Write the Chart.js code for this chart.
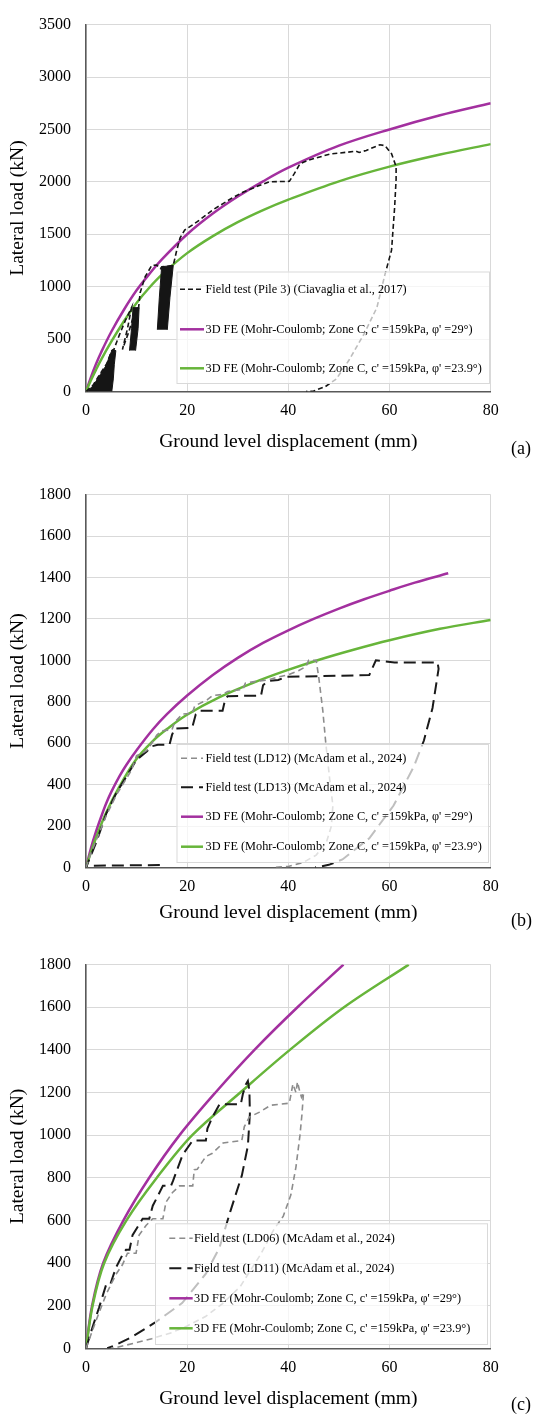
<!DOCTYPE html>
<html>
<head>
<meta charset="utf-8">
<script src="https://cdn.jsdelivr.net/npm/chart.js@4.4.1/dist/chart.umd.min.js"></script>
<style>
  body { margin: 0; background: #fff; }
  #page { position: relative; width: 537px; height: 1416px; }
  canvas { position: absolute; left: 0; }
  .tag { position: absolute; left: 511px; font: 18px "Liberation Serif", serif; line-height: 20px; color: #000; }
</style>
</head>
<body>
<div id="page">
  <canvas id="chartA" width="537" height="470" style="top:0"></canvas>
  <canvas id="chartB" width="537" height="470" style="top:470px"></canvas>
  <canvas id="chartC" width="537" height="476" style="top:940px"></canvas>
  <div class="tag" style="top:438px">(a)</div>
  <div class="tag" style="top:910px">(b)</div>
  <div class="tag" style="top:1394px">(c)</div>
</div>
<script>
// tick labels
const xTicks = [0, 20, 40, 60, 80];
const yTicksA = [0, 500, 1000, 1500, 2000, 2500, 3000, 3500];
const yTicksBC = [0, 200, 400, 600, 800, 1000, 1200, 1400, 1600, 1800];

// (a) field test, Pile 3
const pile3X = [0, 1.4, 2.8, 4.1, 5.1, 5.5, 6.6, 7.8, 9.0, 8.2, 7.2, 8.4, 9.4, 10.0, 10.4, 10.7, 11.7, 13.0, 14.0, 14.7,
  15.0, 16.2, 17.25, 17.9, 18.6, 19.5, 22, 25, 27, 29, 31, 34, 36.2, 40.2, 41.2, 42.3, 44, 48.2, 53.4, 54,
  55.4, 58.1, 59.1, 60.4, 61.3, 61.3, 61.0, 60.4, 59.1, 57.5, 55, 52, 49.5, 47.3, 45, 43.5];
const pile3Y = [0, 60, 170, 265, 390, 400, 540, 680, 800, 600, 400, 560, 720, 790, 800, 942, 1096, 1203, 1205, 1172,
  1190, 1195, 1203, 1340, 1465, 1540, 1620, 1730, 1790, 1850, 1900, 1960, 2000, 2005, 2080, 2173, 2207, 2265, 2292, 2280,
  2300, 2354, 2345, 2268, 2145, 2023, 1750, 1348, 1117, 800, 552, 300, 120, 46, 5, 0];
// dense load cycles (read as filled outlines)
const cycA1X = [0.2, 1.4, 2.8, 4.0, 4.8, 5.3, 5.9, 5.6, 5.4, 5.1];
const cycA1Y = [0, 55, 160, 250, 360, 400, 390, 260, 120, 0];
const cycA2X = [8.6, 9.0, 9.3, 10.5, 10.3, 9.8];
const cycA2Y = [390, 600, 800, 800, 600, 390];
const cycA3X = [14.1, 14.5, 14.95, 17.25, 16.6, 16.07];
const cycA3Y = [590, 900, 1190, 1203, 900, 588];
// (a) 3D FE
const feA29X = [0, 1, 2, 3, 5, 7.5, 10, 12.5, 15, 20, 25, 30, 35, 40, 50, 60, 70, 80];
const feA29Y = [0, 140, 265, 375, 570, 780, 965, 1120, 1260, 1500, 1695, 1860, 2005, 2135, 2345, 2500, 2635, 2750];
const feA239X = [0, 1, 2, 3, 5, 7.5, 10, 12.5, 15, 20, 25, 30, 35, 40, 50, 60, 70, 80];
const feA239Y = [0, 110, 210, 305, 475, 670, 845, 990, 1115, 1320, 1480, 1615, 1730, 1830, 2005, 2145, 2260, 2360];

// (b) field tests
const ld12X = [0, 1, 2, 3, 4, 5, 6, 7, 8, 9, 10, 11, 12, 13, 14, 15, 17, 17.5, 19, 21, 21.5, 24, 25, 27, 28, 31,
  31.5, 34, 36, 38, 40, 42, 43.5, 44, 45.5, 46, 46.8, 47.4, 48.2, 48.8, 48.5, 47.5, 45.5, 43, 40, 37];
const ld12Y = [0, 70, 130, 190, 250, 300, 350, 390, 430, 470, 540, 550, 565, 600, 640, 660, 665, 700, 740, 745, 780, 810, 830, 835, 850, 860,
  890, 900, 905, 920, 930, 950, 970, 1000, 1000, 920, 760, 600, 420, 300, 200, 120, 60, 25, 5, 0];
const ld13X = [14.6, 0, 0, 1, 2, 3, 4, 5, 6, 7, 8, 9, 10, 11, 12, 13, 14.2, 16.5, 17, 17.5, 21, 21.7, 22.5, 27, 27.5, 28,
  34.6, 35, 36, 38, 39.5, 56, 57.3, 59, 61, 69.5, 69.7, 68.5, 66.8, 64.8, 60.8, 56, 50.7, 48, 45.3];
const ld13Y = [12, 8, 0, 60, 120, 190, 260, 310, 360, 400, 440, 480, 520, 540, 560, 585, 592, 592, 640, 670, 675, 740, 757, 757, 810, 827,
  830, 880, 900, 905, 920, 929, 1000, 995, 990, 990, 959, 770, 613, 487, 299, 141, 39, 13, 0];
// (b) 3D FE
const feB29X = [0, 1, 2, 3, 4, 5, 6.6, 8, 10, 13.2, 16, 20, 25, 30, 35, 40, 45, 50, 55, 60, 65, 71.6];
const feB29Y = [0, 95, 175, 245, 310, 365, 440, 496, 566, 666, 740, 830, 928, 1012, 1084, 1145, 1200, 1250, 1295, 1336, 1375, 1420];
const feB239X = [0, 1, 2, 4, 6.6, 9.9, 13.2, 16, 19.8, 26.4, 32.9, 39.5, 46.1, 52.7, 60, 70, 80];
const feB239Y = [0, 75, 145, 265, 390, 521, 610, 668, 735, 822, 890, 950, 1003, 1050, 1097, 1152, 1195];

// (c) field tests
const ld06X = [0, 2, 4, 5.9, 7.2, 8.2, 9.9, 10.5, 11.9, 13.2, 15.2, 15.8, 17.1, 18.5, 21.1, 21.4, 22, 23.7, 25, 27.1,
  30.8, 31.3, 32.3, 34.3, 36.5, 40.2, 40.9, 41.5, 41.8, 42.2, 42.6, 43, 42.7, 42.3, 41.5, 40.5, 39, 37.2, 34.5, 30.5,
  27, 23.7, 20, 17, 13, 10.2, 6.2, 4.9];
const ld06Y = [0, 131, 254, 346, 392, 446, 446, 531, 577, 608, 608, 685, 731, 762, 762, 838, 840, 900, 915, 963,
  975, 1040, 1085, 1108, 1140, 1150, 1240, 1200, 1250, 1210, 1178, 1200, 1100, 1000, 850, 720, 620, 560, 440, 290,
  210, 150, 105, 74, 45, 28, 5, 0];
const ld11X = [0, 1.3, 2.6, 4.0, 4.8, 5.9, 7.2, 7.9, 8.6, 9.2, 11.2, 12.5, 13.2, 14.2, 15.2, 16.8, 17.2, 19.1, 21.1, 23.7,
  24, 25, 26.4, 30.6, 31, 31.6, 32, 32.3, 32.4, 32, 30.8, 28.5, 26.4, 23.7, 19, 13.6, 8.9, 5.5, 4.2];
const ld11Y = [0, 100, 192, 300, 300, 377, 438, 462, 462, 531, 608, 608, 669, 715, 762, 762, 785, 908, 975, 975,
  1031, 1085, 1145, 1145, 1192, 1238, 1254, 1208, 1100, 950, 810, 640, 473, 350, 212, 120, 51, 12, 0];
// (c) 3D FE
const feC29X = [0, 1.2, 3.4, 7.4, 12.5, 18.5, 25.6, 33.3, 41.8, 50.9];
const feC29Y = [0, 200, 400, 600, 800, 1000, 1200, 1400, 1600, 1800];
const feC239X = [0, 1.3, 3.6, 8, 14, 21, 30.5, 40.3, 51, 63.8];
const feC239Y = [0, 200, 400, 600, 800, 1000, 1200, 1400, 1600, 1800];

const FE29 = "3D FE (Mohr-Coulomb; Zone C, c' =159kPa, \u03c6' =29\u00b0)";
const FE239 = "3D FE (Mohr-Coulomb; Zone C, c' =159kPa, \u03c6' =23.9\u00b0)";
const PURPLE = '#a3309f';
const GREEN = '#67b53a';

Chart.defaults.font.family = '"Liberation Serif", "Times New Roman", serif';
Chart.defaults.color = '#000';

function pts(xs, ys) {
  return xs.map((x, i) => ({ x: x, y: ys[i] }));
}

function field(label, xs, ys, color, dash, width) {
  return { label: label, data: pts(xs, ys), showLine: true, borderColor: color, borderDash: dash,
    borderWidth: width, pointRadius: 0, tension: 0, order: 0 };
}

function fe(label, xs, ys, color, order) {
  return { label: label, data: pts(xs, ys), showLine: true, borderColor: color, borderWidth: 2.5,
    pointRadius: 0, tension: 0.35, order: order };
}

function cycles(xs, ys) {
  return { data: pts(xs, ys), noLegend: true, showLine: true, fill: 'shape', backgroundColor: '#151515',
    borderColor: '#151515', borderWidth: 1, pointRadius: 0, tension: 0, order: 0 };
}

// legend box drawn inside the plot, with a see-through white fill
const boxLegend = {
  id: 'boxLegend',
  afterDatasetsDraw(chart, args, o) {
    const ctx = chart.ctx;
    const b = o.box;
    ctx.save();
    ctx.fillStyle = 'rgba(255,255,255,0.72)';
    ctx.fillRect(b[0], b[1], b[2] - b[0], b[3] - b[1]);
    ctx.strokeStyle = '#d9d9d9';
    ctx.lineWidth = 1;
    ctx.strokeRect(b[0] + 0.5, b[1] + 0.5, b[2] - b[0], b[3] - b[1]);
    const shown = chart.data.datasets.filter(d => !d.noLegend);
    shown.forEach((d, i) => {
      const y = o.rows[i];
      ctx.beginPath();
      ctx.setLineDash(d.borderDash || []);
      ctx.strokeStyle = d.borderColor;
      ctx.lineWidth = d.borderWidth;
      ctx.moveTo(o.sample[0], y);
      ctx.lineTo(o.sample[1], y);
      ctx.stroke();
      ctx.setLineDash([]);
      ctx.fillStyle = '#000';
      ctx.font = '12.3px "Liberation Serif", serif';
      ctx.textBaseline = 'middle';
      ctx.fillText(d.label, o.textX, y);
    });
    ctx.restore();
  }
};

function makeChart(id, datasets, yTicks, frame, legend) {
  return new Chart(document.getElementById(id), {
    type: 'scatter',
    data: { datasets: datasets },
    options: {
      responsive: false,
      animation: false,
      layout: { padding: { top: frame.top, right: 537 - frame.right, left: 0, bottom: 0 } },
      scales: {
        x: {
          type: 'linear', min: 0, max: 80,
          afterBuildTicks: s => { s.ticks = xTicks.map(v => ({ value: v })); },
          afterFit: s => { s.height = frame.xh; },
          grid: { color: '#d9d9d9', drawTicks: false },
          border: { color: '#595959', width: 1.5 },
          ticks: { padding: 10, font: { size: 16 }, color: '#000', callback: v => String(v) },
          title: { display: true, text: 'Ground level displacement (mm)', color: '#000',
            font: { size: 19.5, lineHeight: 1 }, padding: { top: 0, bottom: frame.tb } }
        },
        y: {
          type: 'linear', min: 0, max: yTicks[yTicks.length - 1],
          afterBuildTicks: s => { s.ticks = yTicks.map(v => ({ value: v })); },
          afterFit: s => { s.width = 86; },
          grid: { color: '#d9d9d9', drawTicks: false },
          border: { color: '#595959', width: 1.5 },
          ticks: { padding: 15, font: { size: 16 }, color: '#000', callback: v => String(v) },
          title: { display: true, text: 'Lateral load (kN)', color: '#000',
            font: { size: 19.5, lineHeight: 1 }, padding: { top: 8.25, bottom: 0 } }
        }
      },
      plugins: {
        legend: { display: false },
        tooltip: { enabled: false },
        boxLegend: legend
      }
    },
    plugins: [boxLegend]
  });
}

makeChart('chartA', [
  field('Field test (Pile 3) (Ciavaglia et al., 2017)', pile3X, pile3Y, '#151515', [5, 3], 1.6),
  cycles(cycA1X, cycA1Y),
  cycles(cycA2X, cycA2Y),
  cycles(cycA3X, cycA3Y),
  fe(FE29, feA29X, feA29Y, PURPLE, 2),
  fe(FE239, feA239X, feA239Y, GREEN, 1)
], yTicksA, { top: 13, right: 490.7, xh: 78.5, tb: 18.75 },
{ box: [176.5, 271.5, 489, 383], rows: [289.3, 329.3, 368.3], sample: [180, 204], textX: 205.5 });

makeChart('chartB', [
  field('Field test (LD12) (McAdam et al., 2024)', ld12X, ld12Y, '#8c8c8c', [6, 4], 1.6),
  field('Field test (LD13) (McAdam et al., 2024)', ld13X, ld13Y, '#1a1a1a', [12, 6], 2),
  fe(FE29, feB29X, feB29Y, PURPLE, 2),
  fe(FE239, feB239X, feB239Y, GREEN, 1)
], yTicksBC, { top: 15, right: 490.7, xh: 72.5, tb: 17.25 },
{ box: [176.5, 274, 488, 392], rows: [288.3, 317.3, 346.7, 376.7], sample: [181, 203], textX: 205.5 });

makeChart('chartC', [
  field('Field test (LD06) (McAdam et al., 2024)', ld06X, ld06Y, '#8c8c8c', [6, 4], 1.6),
  field('Field test (LD11) (McAdam et al., 2024)', ld11X, ld11Y, '#1a1a1a', [12, 6], 2),
  fe(FE29, feC29X, feC29Y, PURPLE, 2),
  fe(FE239, feC239X, feC239Y, GREEN, 1)
], yTicksBC, { top: 18.3, right: 490.7, xh: 67.7, tb: 7.25 },
{ box: [155, 283.3, 487, 404], rows: [298.3, 328.3, 358.3, 388.3], sample: [169.3, 192.7], textX: 194 });
</script>
</body>
</html>
